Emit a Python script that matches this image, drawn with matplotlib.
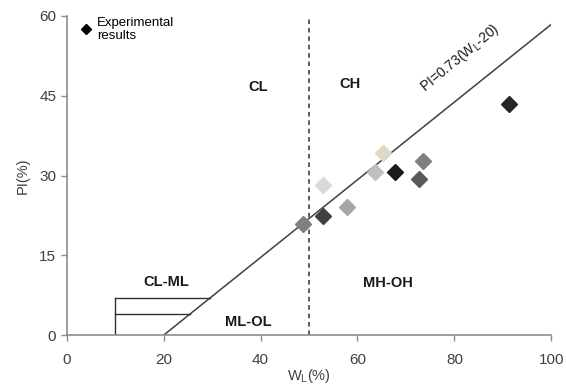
import numpy as np
import matplotlib
matplotlib.use("Agg")
from matplotlib import pyplot as plt
from matplotlib.lines import Line2D

plt.rcParams["font.family"] = ["Liberation Sans", "DejaVu Sans"]

# experimental results (liquid limit, plasticity index)
wl = [48.8, 52.9, 52.9, 57.9, 63.6, 65.3, 67.8, 72.7, 73.6, 91.3]
pi = [20.9, 22.4, 28.2, 24.1, 30.7, 34.2, 30.7, 29.3, 32.7, 43.4]
point_colors = ["#808080", "#404040", "#d9d9d9", "#a6a6a6", "#bfbfbf",
                "#ddd9c3", "#1a1a1a", "#595959", "#7f7f7f", "#262626"]

# A-line PI = 0.73 (WL - 20)
a_line_wl = np.array([20, 100])
a_slope = 0.73
a_offset = 20
wl_split = 50
clml_low, clml_high = 4, 7
clml_left = 10

zone_labels = ["CL", "CH", "CL-ML", "ML-OL", "MH-OH"]
zone_pos = [(39.5, 46.6), (58.5, 47.2), (20.6, 10.0), (37.5, 2.4), (66.3, 9.8)]

xticks = [0, 20, 40, 60, 80, 100]
yticks = [0, 15, 30, 45, 60]

fig = plt.figure(figsize=(5.66, 3.87), dpi=100)
ax = fig.add_axes([0.118, 0.134, 0.856, 0.825])

a_line_pi = a_slope * (a_line_wl - a_offset)
ax.plot(a_line_wl, a_line_pi, color="#404040", lw=1.1, zorder=2)
ax.plot([wl_split, wl_split], [0, 60], color="#303030", lw=1.1,
        ls=(0, (3, 2.5)), zorder=2)

# CL-ML band
x_high = clml_high / a_slope + a_offset
x_low = clml_low / a_slope + a_offset
ax.plot([clml_left, clml_left], [0, clml_high], color="#303030", lw=1)
ax.plot([clml_left, x_high], [clml_high, clml_high], color="#303030", lw=1)
ax.plot([clml_left, x_low], [clml_low, clml_low], color="#303030", lw=1)

for x, y, c in zip(wl, pi, point_colors):
    ax.plot(x, y, marker="D", ms=8.5, color=c, mec=c, ls="none", zorder=3)

for lab, (x, y) in zip(zone_labels, zone_pos):
    ax.text(x, y, lab, ha="center", va="center", fontsize=10.5,
            fontweight="bold", color="#1a1a1a")

ax.text(81.2, 52.0, "PI=0.73(W$_\\mathregular{L}$-20)", rotation=39.5,
        rotation_mode="anchor", ha="center", va="center", fontsize=10,
        color="#1a1a1a")

handle = Line2D([], [], marker="D", ms=5.5, color="black", ls="none")
ax.legend([handle], ["Experimental\nresults"], loc="upper left",
          bbox_to_anchor=(0.005, 1.035), frameon=False, fontsize=9.5,
          handlelength=0.8, handletextpad=0.4, labelspacing=0.1)

ax.set_xlim(0, 100)
ax.set_ylim(0, 60)
ax.set_xticks(xticks)
ax.set_yticks(yticks)
for s in ["top", "right"]:
    ax.spines[s].set_visible(False)
for s in ["left", "bottom"]:
    ax.spines[s].set_color("#8c8c8c")
    ax.spines[s].set_linewidth(1.2)
ax.tick_params(colors="#8c8c8c", labelcolor="#404040", labelsize=11,
               length=4, width=1)
ax.tick_params(axis="x", pad=9)
ax.set_xlabel("W$_\\mathregular{L}$(%)", fontsize=10.5, color="#404040", labelpad=0)
ax.set_ylabel("PI(%)", fontsize=10.5, color="#404040", labelpad=7)

fig.savefig("out.png", dpi=100)
